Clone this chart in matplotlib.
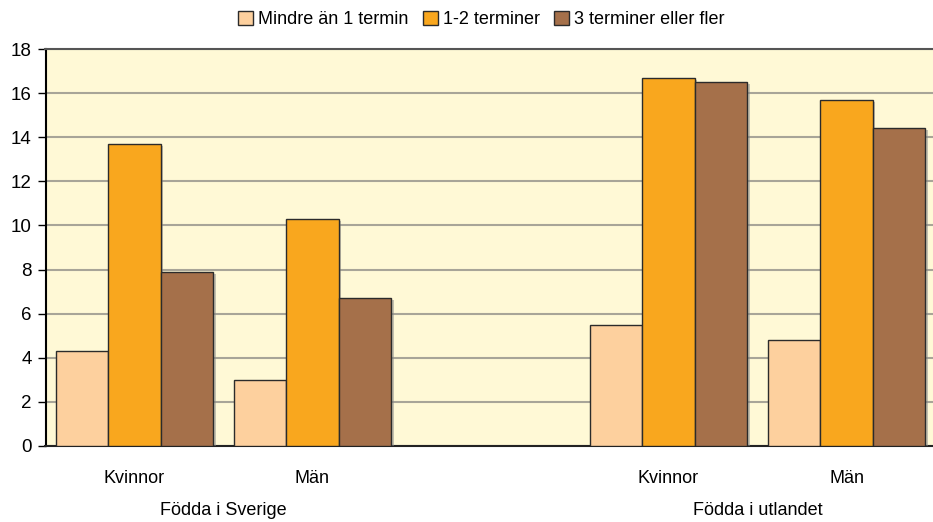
import matplotlib
matplotlib.use("Agg")
import matplotlib.pyplot as plt
import matplotlib.patheffects as pe
import numpy as np

# data
categories = ["Kvinnor", "Män", "", "Kvinnor", "Män"]
groups = ["Födda i Sverige", "Födda i utlandet"]
series = ["Mindre än 1 termin", "1-2 terminer", "3 terminer eller fler"]
mindre = [4.3, 3.0, None, 5.5, 4.8]
en_tva = [13.7, 10.3, None, 16.7, 15.7]
tre_fler = [7.9, 6.7, None, 16.5, 14.4]
colors = ["#FDD09E", "#F9A71E", "#A5704A"]

plt.rcParams['font.family'] = ['Liberation Sans Narrow', 'Liberation Sans', 'DejaVu Sans']
fs = 13

fig = plt.figure(figsize=(9.33, 5.22), dpi=100)
ax = fig.add_axes([45.5/933, 76/522, 890/933, 397/522])
ax.set_facecolor("#FFF9D6")

x = np.arange(len(categories))
w = 0.294
shadow = [pe.SimplePatchShadow(offset=(2, -1.5), shadow_rgbFace="#888888", alpha=0.5), pe.Normal()]
for i, (vals, name) in enumerate(zip([mindre, en_tva, tre_fler], series)):
    xs = [xx + (i-1)*w for xx, v in zip(x, vals) if v is not None]
    ys = [v for v in vals if v is not None]
    bars = ax.bar(xs, ys, width=w, color=colors[i], edgecolor="#2b2b2b", linewidth=1.0,
                  label=name, zorder=3)
    for b in bars:
        b.set_path_effects(shadow)

ax.set_xlim(-0.5, 4.5)
ax.set_ylim(0, 18)
ax.set_yticks(np.arange(0, 19, 2))
ax.yaxis.grid(True, color="#A8A598", linewidth=1.5, zorder=0)
ax.set_axisbelow(True)
ax.tick_params(axis='y', direction='out', length=6, width=1, labelsize=fs + 0.5, pad=4)
ax.set_xticks(x)
ax.set_xticklabels(categories, fontsize=fs)
ax.tick_params(axis='x', length=0, pad=17)
ax.spines["right"].set_visible(False)
ax.spines["left"].set_color("black")
ax.spines["left"].set_linewidth(1.5)
ax.spines["bottom"].set_color("#222222")
ax.spines["bottom"].set_linewidth(1.5)
ax.spines["top"].set_color("#555555")
ax.spines["top"].set_linewidth(1.5)

ax.text(0.5, -0.142, groups[0], transform=ax.get_xaxis_transform(), ha="center", va="top", fontsize=fs)
ax.text(3.5, -0.142, groups[1], transform=ax.get_xaxis_transform(), ha="center", va="top", fontsize=fs)

leg = ax.legend(loc="lower center", bbox_to_anchor=(0.49, 1.035), ncol=3, frameon=False,
                fontsize=fs, handlelength=0.8, handleheight=0.8, handletextpad=0.3,
                columnspacing=0.8, borderaxespad=0)
for h in leg.legend_handles:
    h.set_path_effects([])
    h.set_edgecolor("#2b2b2b")

fig.savefig("out.png", dpi=100)
